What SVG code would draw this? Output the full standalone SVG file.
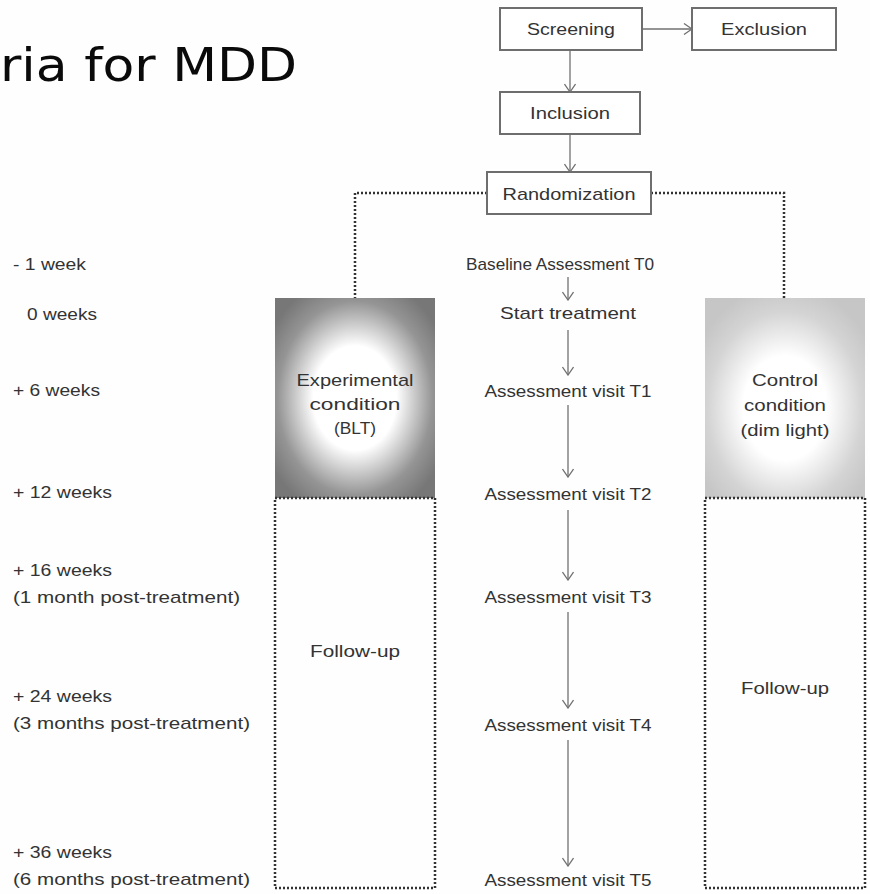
<svg xmlns="http://www.w3.org/2000/svg" width="870" height="894" viewBox="0 0 870 894">
  <style>
    .t { font-family: "Liberation Sans", Arial, sans-serif; font-size: 17px; fill: #333333; }
    .c { text-anchor: middle; }
    .box { fill: #ffffff; stroke: #6e6e6e; stroke-width: 2; }
    .arrow { stroke: #707070; stroke-width: 1.3; fill: none; marker-end: url(#chev); }
    .dot { stroke: #333; stroke-width: 2.5; stroke-dasharray: 2 2; fill: none; }
    .title { font-family: "DejaVu Sans", Verdana, sans-serif; font-size: 46px; fill: #0a0a0a; }
  </style>
  <defs>
    <marker id="chev" viewBox="0 0 10 12" refX="9" refY="6" markerWidth="10" markerHeight="12" markerUnits="userSpaceOnUse" orient="auto">
      <path d="M1,0.5 L9,6 L1,11.5" fill="none" stroke="#707070" stroke-width="1.3"/>
    </marker>
    <radialGradient id="gExp" cx="0.5" cy="0.5" r="0.62">
      <stop offset="0" stop-color="#ffffff"/>
      <stop offset="0.42" stop-color="#ffffff"/>
      <stop offset="0.78" stop-color="#959595"/>
      <stop offset="1" stop-color="#777777"/>
    </radialGradient>
    <radialGradient id="gCtl" cx="0.5" cy="0.55" r="0.62">
      <stop offset="0" stop-color="#ffffff"/>
      <stop offset="0.42" stop-color="#ffffff"/>
      <stop offset="0.78" stop-color="#d4d4d4"/>
      <stop offset="1" stop-color="#c6c6c6"/>
    </radialGradient>
  </defs>
  <rect width="870" height="894" fill="#fefefe"/>

  <text class="title" x="0" y="81" textLength="297" lengthAdjust="spacingAndGlyphs">ria for MDD</text>

  <g id="connectors">
    <line class="arrow" x1="642" y1="29" x2="692" y2="29"/>
    <line class="arrow" x1="570" y1="50" x2="570" y2="92"/>
    <line class="arrow" x1="570" y1="134" x2="570" y2="172"/>
    <polyline class="dot" points="487,193 355,193 355,298"/>
    <polyline class="dot" points="651,193 784,193 784,298"/>
    <line class="arrow" x1="568" y1="277" x2="568" y2="300"/>
    <line class="arrow" x1="568" y1="330" x2="568" y2="375"/>
    <line class="arrow" x1="568" y1="405" x2="568" y2="477"/>
    <line class="arrow" x1="568" y1="510" x2="568" y2="580"/>
    <line class="arrow" x1="568" y1="612" x2="568" y2="708"/>
    <line class="arrow" x1="568" y1="740" x2="568" y2="866"/>
  </g>

  <g id="screening">
    <rect class="box" x="500" y="8" width="142" height="42"/>
    <text class="t c" x="571" y="35" textLength="88" lengthAdjust="spacingAndGlyphs">Screening</text>
  </g>
  <g id="exclusion">
    <rect class="box" x="692" y="8" width="144" height="42"/>
    <text class="t c" x="764" y="35" textLength="86" lengthAdjust="spacingAndGlyphs">Exclusion</text>
  </g>
  <g id="inclusion">
    <rect class="box" x="500" y="92" width="140" height="42"/>
    <text class="t c" x="570" y="119" textLength="80" lengthAdjust="spacingAndGlyphs">Inclusion</text>
  </g>
  <g id="randomization">
    <rect class="box" x="487" y="172" width="164" height="42"/>
    <text class="t c" x="569" y="200" textLength="133" lengthAdjust="spacingAndGlyphs">Randomization</text>
  </g>

  <g id="experimental">
    <rect x="275" y="298" width="160" height="200" fill="url(#gExp)"/>
    <text class="t c" x="355" y="386" textLength="117" lengthAdjust="spacingAndGlyphs">Experimental</text>
    <text class="t c" x="355" y="410" textLength="91" lengthAdjust="spacingAndGlyphs">condition</text>
    <text class="t c" x="355" y="434" textLength="42" lengthAdjust="spacingAndGlyphs">(BLT)</text>
  </g>
  <g id="control">
    <rect x="705" y="298" width="160" height="200" fill="url(#gCtl)"/>
    <text class="t c" x="785" y="386" textLength="66" lengthAdjust="spacingAndGlyphs">Control</text>
    <text class="t c" x="785" y="411" textLength="82" lengthAdjust="spacingAndGlyphs">condition</text>
    <text class="t c" x="785" y="436" textLength="89" lengthAdjust="spacingAndGlyphs">(dim light)</text>
  </g>
  <g id="followup-left">
    <rect class="dot" x="275" y="498" width="160" height="390"/>
    <text class="t c" x="355" y="657" textLength="90" lengthAdjust="spacingAndGlyphs">Follow-up</text>
  </g>
  <g id="followup-right">
    <rect class="dot" x="705" y="498" width="160" height="390"/>
    <text class="t c" x="785" y="694" textLength="88" lengthAdjust="spacingAndGlyphs">Follow-up</text>
  </g>

  <g id="timeline">
    <text class="t c" x="560" y="270" textLength="188" lengthAdjust="spacingAndGlyphs">Baseline Assessment T0</text>
    <text class="t c" x="568" y="319" textLength="136" lengthAdjust="spacingAndGlyphs">Start treatment</text>
    <text class="t c" x="568" y="397" textLength="167" lengthAdjust="spacingAndGlyphs">Assessment visit T1</text>
    <text class="t c" x="568" y="500" textLength="167" lengthAdjust="spacingAndGlyphs">Assessment visit T2</text>
    <text class="t c" x="568" y="603" textLength="167" lengthAdjust="spacingAndGlyphs">Assessment visit T3</text>
    <text class="t c" x="568" y="731" textLength="167" lengthAdjust="spacingAndGlyphs">Assessment visit T4</text>
    <text class="t c" x="568" y="886" textLength="167" lengthAdjust="spacingAndGlyphs">Assessment visit T5</text>
  </g>

  <g id="time-labels">
    <text class="t" x="13" y="270" textLength="73" lengthAdjust="spacingAndGlyphs">- 1 week</text>
    <text class="t" x="27" y="320" textLength="70" lengthAdjust="spacingAndGlyphs">0 weeks</text>
    <text class="t" x="13" y="396" textLength="87" lengthAdjust="spacingAndGlyphs">+ 6 weeks</text>
    <text class="t" x="13" y="498" textLength="99" lengthAdjust="spacingAndGlyphs">+ 12 weeks</text>
    <text class="t" x="13" y="576" textLength="99" lengthAdjust="spacingAndGlyphs">+ 16 weeks</text>
    <text class="t" x="13" y="603" textLength="227" lengthAdjust="spacingAndGlyphs">(1 month post-treatment)</text>
    <text class="t" x="13" y="702" textLength="99" lengthAdjust="spacingAndGlyphs">+ 24 weeks</text>
    <text class="t" x="13" y="729" textLength="237" lengthAdjust="spacingAndGlyphs">(3 months post-treatment)</text>
    <text class="t" x="13" y="858" textLength="99" lengthAdjust="spacingAndGlyphs">+ 36 weeks</text>
    <text class="t" x="13" y="885" textLength="237" lengthAdjust="spacingAndGlyphs">(6 months post-treatment)</text>
  </g>
</svg>
